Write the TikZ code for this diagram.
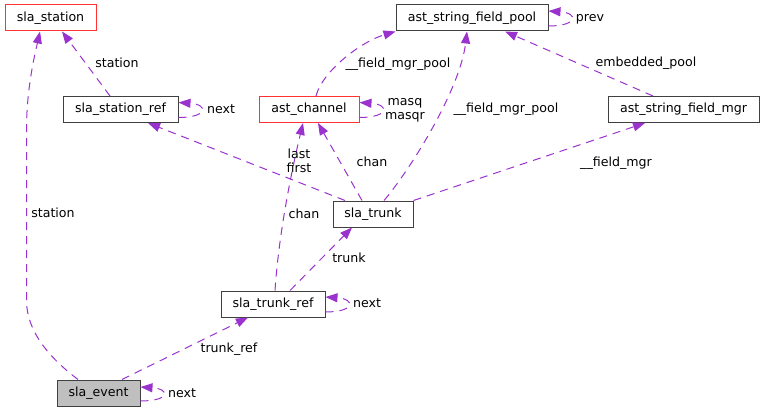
\documentclass[tikz,border=0pt]{standalone}
\usepackage{fontspec}
\setmainfont{DejaVu Sans}
\usetikzlibrary{arrows.meta}
\definecolor{edgecol}{HTML}{9A32CD}
\definecolor{boxred}{HTML}{FF3333}
\definecolor{boxgray}{HTML}{404040}
\definecolor{evfill}{HTML}{BFBFBF}
\begin{document}
\begin{tikzpicture}[x=1pt,y=-1pt,
  font=\fontsize{12.6}{14.5}\selectfont,
  box/.style={draw=boxgray, line width=1pt, fill=white, minimum height=26pt,
    inner sep=0pt, text height=9.6pt, text depth=3pt},
  redbox/.style={box, draw=boxred},
  edge/.style={draw=edgecol, line width=1pt, dash pattern=on 8pt off 6pt,
    -{Triangle[length=12pt,width=9pt,fill=edgecol]}},
  lbl/.style={inner sep=0pt, align=center, anchor=base}]
\useasboundingbox (0,0) rectangle (765,412);

% nodes
\node[redbox, minimum width=91pt]  (station)    at (50.5,18)  {sla\_station};
\node[box,    minimum width=115pt] (stationref) at (120.5,109.5) {sla\_station\_ref};
\node[redbox, minimum width=100pt] (channel)    at (309,109.5) {ast\_channel};
\node[box,    minimum width=152pt] (pool)       at (472,18)   {ast\_string\_field\_pool};
\node[box,    minimum width=151pt] (mgr)        at (683.5,109.5) {ast\_string\_field\_mgr};
\node[box,    minimum width=80pt]  (trunk)      at (373,214)  {sla\_trunk};
\node[box,    minimum width=104pt] (trunkref)   at (273,304)  {sla\_trunk\_ref};
\node[box,    minimum width=83pt, fill=evfill] (event) at (98.5,393) {sla\_event};

% edges
\draw[edge] ([xshift=-10.5pt]stationref.north) -- ([xshift=11.5pt]station.south);
\draw[edge] ([xshift=-20.5pt]event.north) .. controls (55,362) and (26.5,335) .. (26.5,300)
  -- (26.5,130) .. controls (26.5,90) and (34,58) .. ([xshift=-10.5pt]station.south);
\draw[edge] ([xshift=23.5pt]event.north) -- ([xshift=-25pt]trunkref.south);
\draw[edge] ([xshift=17pt]trunkref.north) -- ([xshift=-21pt]trunk.south);
\draw[edge] ([xshift=2pt]trunkref.north) .. controls (279,230) and (293,165) .. ([xshift=-6pt]channel.south);
\draw[edge] ([xshift=-11pt]trunk.north) -- ([xshift=9pt]channel.south);
\draw[edge] ([xshift=-28pt]trunk.north) -- ([xshift=27.5pt]stationref.south);
\draw[edge] ([xshift=11pt]trunk.north) .. controls (410,170) and (460,90) .. ([xshift=-5pt]pool.south);
\draw[edge] (trunk.north east) -- ([xshift=-38.5pt]mgr.south);
\draw[edge] ([xshift=-30.5pt]mgr.north) -- ([xshift=33pt]pool.south);
\draw[edge] ([xshift=7pt]channel.north) .. controls (322,72) and (360,42) .. (pool.south west);

% self loops
\draw[edge] ([yshift=-8pt]stationref.east) .. controls +(30,0) and +(30,2) .. ([yshift=7pt]stationref.east);
\draw[edge] ([yshift=-8pt]event.east) .. controls +(30,0) and +(30,2) .. ([yshift=6pt]event.east);
\draw[edge] ([yshift=-8pt]trunkref.east) .. controls +(30,0) and +(30,2) .. ([yshift=7pt]trunkref.east);
\draw[edge] ([yshift=-8pt]channel.east) .. controls +(30,0) and +(30,2) .. ([yshift=7pt]channel.east);
\draw[edge] ([yshift=-8pt]pool.east) .. controls +(30,0) and +(30,2) .. ([yshift=7pt]pool.east);

% labels
\node[lbl] (l1)  at (117,67.5)  {station};
\node[lbl] (l2)  at (221,113.5) {next};
\node[lbl] (l3)  at (53,217.5)  {station};
\node[lbl] (l4)  at (182,397.5) {next};
\node[lbl] (l5)  at (229,352.5) {trunk\_ref};
\node[lbl] (l6)  at (367,307.5) {next};
\node[lbl] (l7)  at (349,262.5) {trunk};
\node[lbl] (l8)  at (304,218.5) {chan};
\node[lbl] (l9)  at (372,166.5) {chan};
\node[lbl] (l10) at (299,172.5) {last\\first};
\node[lbl] (l11) at (405,119.5) {masq\\masqr};
\node[lbl] (l12) at (398,67.5)  {\_\_field\_mgr\_pool};
\node[lbl] (l13) at (506,112.5) {\_\_field\_mgr\_pool};
\node[lbl] (l14) at (590,21.5)  {prev};
\node[lbl] (l15) at (646,66.5)  {embedded\_pool};
\node[lbl] (l16) at (616,166.5) {\_\_field\_mgr};
\end{tikzpicture}
\end{document}
